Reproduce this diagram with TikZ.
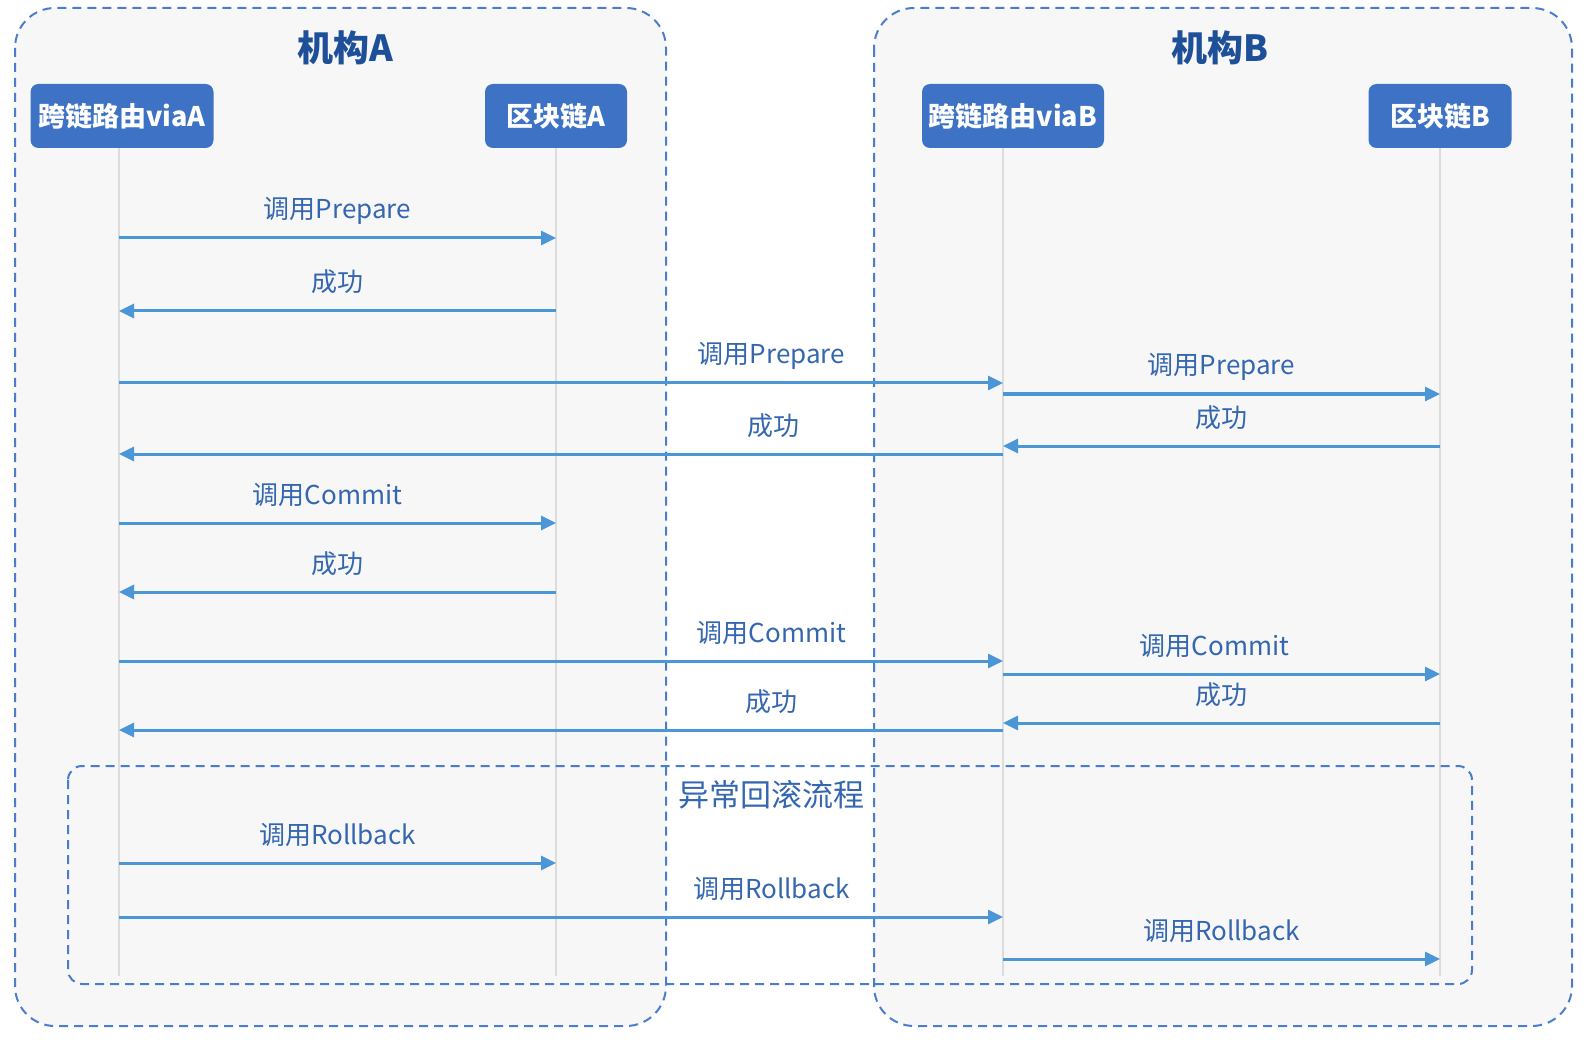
\documentclass[tikz,border=0pt]{standalone}
\usepackage{fontspec}
\setmainfont{Noto Sans CJK SC}
\usetikzlibrary{arrows.meta}

\definecolor{orgfill}{HTML}{F7F7F7}
\definecolor{dashblue}{HTML}{4A7ECC}
\definecolor{headblue}{HTML}{3D72C4}
\definecolor{titleblue}{HTML}{1E4F99}
\definecolor{textblue}{HTML}{3567B0}
\definecolor{arrowblue}{HTML}{4A96D7}
\definecolor{lifegray}{HTML}{DCDCDC}

\begin{document}
\begin{tikzpicture}[x=1pt, y=-1pt,
    org/.style={draw=dashblue, fill=orgfill, line width=2pt, dash pattern=on 9pt off 6pt, rounded corners=40pt},
    grp/.style={draw=dashblue, line width=2pt, dash pattern=on 9pt off 6pt, rounded corners=14pt},
    title/.style={text=titleblue, font=\fontsize{36}{40}\selectfont\bfseries},
    head/.style={fill=headblue, text=white, rounded corners=8pt, minimum height=64pt, inner sep=0pt, font=\fontsize{27}{30}\selectfont\bfseries},
    life/.style={draw=lifegray, line width=1.2pt},
    msg/.style={draw=arrowblue, line width=3pt, -{Triangle[length=15pt,width=14pt]}},
    lbl/.style={text=textblue, font=\fontsize{26}{30}\selectfont, anchor=base, yshift=19pt, inner sep=0pt},
    grplbl/.style={text=textblue, font=\fontsize{31}{34}\selectfont}]

    \useasboundingbox (0,0) rectangle (1590,1040);

    % the two institutions
    \draw[org] (15,8) rectangle (666,1026);
    \draw[org] (874,8) rectangle (1572,1026);
    \node[title] (ttlA) at (345,48) {机构A};
    \node[title] (ttlB) at (1220,48) {机构B};

    % participants
    \node[head, minimum width=183pt] (viaA) at (122,116) {跨链路由viaA};
    \node[head, minimum width=142pt] (chainA) at (556,116) {区块链A};
    \node[head, minimum width=182pt] (viaB) at (1013,116) {跨链路由viaB};
    \node[head, minimum width=143pt] (chainB) at (1440,116) {区块链B};

    % lifelines
    \coordinate (endviaA) at (119,976);
    \coordinate (endchainA) at (556,976);
    \coordinate (endviaB) at (1003,976);
    \coordinate (endchainB) at (1440,976);
    \draw[life] (viaA.south -| endviaA) -- (endviaA);
    \draw[life] (chainA.south -| endchainA) -- (endchainA);
    \draw[life] (viaB.south -| endviaB) -- (endviaB);
    \draw[life] (chainB.south -| endchainB) -- (endchainB);

    % rollback group
    \draw[grp] (68,766) rectangle (1472,984);
    \node[grplbl] (rbttl) at (771,795) {异常回滚流程};

    % prepare
    \draw[msg] (endviaA |- 0,238) -- (endchainA |- 0,238) node[lbl, midway] {调用Prepare};
    \draw[msg] (endchainA |- 0,311) -- (endviaA |- 0,311) node[lbl, midway] {成功};
    \draw[msg] (endviaA |- 0,383) -- (endviaB |- 0,383) node[lbl, pos=0.738] {调用Prepare};
    \draw[msg] (endviaB |- 0,394) -- (endchainB |- 0,394) node[lbl, midway] {调用Prepare};
    \draw[msg] (endchainB |- 0,446) -- (endviaB |- 0,446) node[lbl, midway] {成功};
    \draw[msg] (endviaB |- 0,454) -- (endviaA |- 0,454) node[lbl, pos=0.26] {成功};

    % commit
    \draw[msg] (endviaA |- 0,523) -- (endchainA |- 0,523) node[lbl, midway, xshift=-10pt] {调用Commit};
    \draw[msg] (endchainA |- 0,592) -- (endviaA |- 0,592) node[lbl, midway] {成功};
    \draw[msg] (endviaA |- 0,661) -- (endviaB |- 0,661) node[lbl, pos=0.738] {调用Commit};
    \draw[msg] (endviaB |- 0,674) -- (endchainB |- 0,674) node[lbl, midway, xshift=-7pt] {调用Commit};
    \draw[msg] (endchainB |- 0,723) -- (endviaB |- 0,723) node[lbl, midway] {成功};
    \draw[msg] (endviaB |- 0,730) -- (endviaA |- 0,730) node[lbl, pos=0.262] {成功};

    % rollback
    \draw[msg] (endviaA |- 0,863) -- (endchainA |- 0,863) node[lbl, midway] {调用Rollback};
    \draw[msg] (endviaA |- 0,917) -- (endviaB |- 0,917) node[lbl, pos=0.738] {调用Rollback};
    \draw[msg] (endviaB |- 0,959) -- (endchainB |- 0,959) node[lbl, midway] {调用Rollback};

\end{tikzpicture}
\end{document}
